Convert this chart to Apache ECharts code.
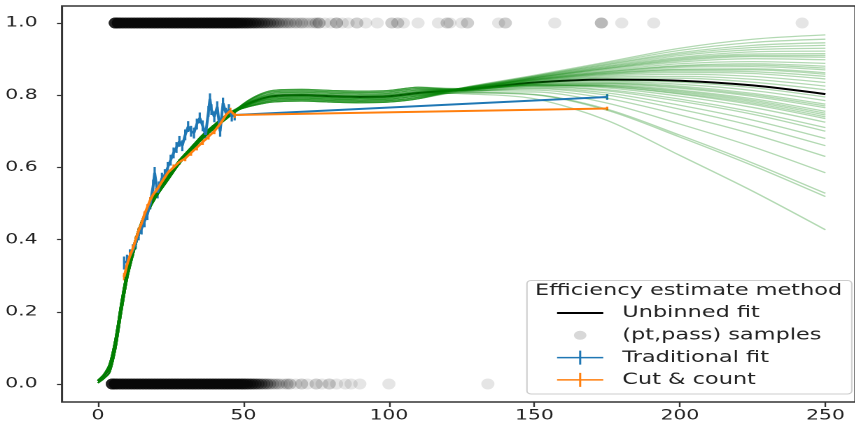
<!DOCTYPE html>
<html>
<head>
<meta charset="utf-8">
<script src="https://cdn.jsdelivr.net/npm/echarts@6/dist/echarts.min.js"></script>
<style>
  body { margin: 0; overflow: hidden; background: #fff; }
  /* the picture is stretched sideways, so draw it narrow and widen it */
  #chart { width: 611px; height: 428px; transform: scaleX(1.4); transform-origin: 0 0; }
</style>
</head>
<body>
<div id="chart"></div>
<script>
var xTicks = [0, 50, 100, 150, 200, 250];
var yTicks = [0, 0.2, 0.4, 0.6, 0.8, 1.0];

// (pt,pass) samples: pt position and how many samples sit on top of each other there
var passX = [6, 7, 8, 9, 10, 11, 12, 13, 14, 15, 16, 17, 18, 19, 20, 21, 22, 23, 24, 25, 26, 27, 28, 29, 30,
  31, 32, 33, 34, 35, 36, 37, 38, 39, 40, 41, 42, 43, 44, 45, 46, 47, 48,
  49, 50, 51, 52, 53, 54, 55, 56, 57, 58, 59, 60, 61, 62, 63, 64, 65, 66, 67, 68, 69, 70, 71, 72, 73, 74, 75, 76,
  78, 80, 82, 84, 86, 89, 92, 96, 101, 103, 105, 110, 117, 120, 121, 125, 127, 137.7, 140, 157, 173, 180, 191, 242];
var passN = [20, 16, 12, 12, 12, 12, 12, 12, 12, 12, 12, 12, 12, 12, 12, 12, 12, 12, 12, 12, 12, 12, 12, 12, 12,
  12, 12, 12, 12, 12, 12, 12, 12, 12, 12, 12, 12, 12, 12, 12, 12, 12, 12,
  10, 9, 9, 8, 7, 7, 6, 5, 5, 4, 4, 3, 3, 3, 2, 2, 2, 2, 1, 2, 1, 2, 1, 1, 1, 1, 2, 3,
  1, 1, 3, 1, 1, 2, 1, 1, 2, 2, 1, 1, 1, 2, 1, 1, 2, 1, 2, 1, 3, 1, 1, 1];
var failX = [5, 6, 7, 8, 9, 10, 11, 12, 13, 14, 15, 16, 17, 18, 19, 20, 21, 22, 23, 24, 25, 26, 27, 28, 29, 30,
  31, 32, 33, 34, 35, 36, 37, 38, 39, 40, 41, 42, 43, 44, 45, 46, 47, 48, 49, 50,
  51, 52, 53, 54, 55, 56, 57, 58, 59, 60, 61, 62, 63, 64, 65, 66,
  68, 70, 72, 75, 77, 79.5, 82, 85, 87, 90, 100, 134];
var failN = [20, 16, 12, 12, 12, 12, 12, 12, 12, 12, 12, 12, 12, 12, 12, 12, 12, 12, 12, 12, 12, 12, 12, 12, 12, 12,
  12, 12, 12, 12, 12, 12, 12, 12, 12, 12, 12, 12, 12, 12, 12, 12, 12, 12, 12, 12,
  10, 9, 8, 7, 6, 5, 4, 4, 3, 2, 2, 2, 1, 1, 2, 2,
  1, 2, 1, 2, 1, 2, 1, 1, 1, 1, 1, 1];

// unbinned fit and its sampled variations, in three pt stretches
var headX = [0, 2, 4, 6, 8, 10, 12, 14, 17, 20, 24, 28, 32, 36, 40, 45];
var headMid = [0.008, 0.022, 0.045, 0.11, 0.21, 0.30, 0.365, 0.42, 0.48, 0.525, 0.57, 0.615, 0.65, 0.685, 0.713, 0.745];
var headHigh = [0.01, 0.026, 0.055, 0.125, 0.225, 0.312, 0.375, 0.428, 0.487, 0.53, 0.576, 0.62, 0.655, 0.69, 0.718, 0.75];
var headLow = [0.003, 0.015, 0.032, 0.095, 0.195, 0.288, 0.355, 0.412, 0.473, 0.518, 0.564, 0.61, 0.645, 0.68, 0.708, 0.74];
var midX = [50, 55, 60, 70, 80, 90, 100, 110];
var fitMid = [0.770, 0.787, 0.797, 0.800, 0.797, 0.795, 0.797, 0.806];
var mids = [
  [0.764, 0.774, 0.781, 0.784, 0.781, 0.779, 0.781, 0.790],
  [0.765, 0.777, 0.785, 0.788, 0.785, 0.783, 0.785, 0.794],
  [0.767, 0.781, 0.789, 0.792, 0.789, 0.787, 0.789, 0.798],
  [0.768, 0.784, 0.793, 0.796, 0.793, 0.791, 0.793, 0.802],
  [0.770, 0.787, 0.797, 0.800, 0.797, 0.795, 0.797, 0.806],
  [0.772, 0.790, 0.801, 0.804, 0.801, 0.799, 0.801, 0.810],
  [0.773, 0.793, 0.805, 0.808, 0.805, 0.803, 0.805, 0.814],
  [0.775, 0.797, 0.809, 0.812, 0.809, 0.807, 0.809, 0.818],
  [0.776, 0.800, 0.813, 0.816, 0.813, 0.811, 0.813, 0.822]
];
var tailX = [125, 150, 175, 200, 225, 250];
var fitTail = [0.815, 0.835, 0.843, 0.840, 0.827, 0.803];
var tails = [
  [0.820, 0.855, 0.892, 0.930, 0.955, 0.967],
  [0.820, 0.853, 0.889, 0.924, 0.946, 0.955],
  [0.819, 0.852, 0.886, 0.918, 0.938, 0.945],
  [0.819, 0.851, 0.884, 0.914, 0.932, 0.938],
  [0.819, 0.850, 0.881, 0.910, 0.926, 0.930],
  [0.819, 0.849, 0.879, 0.905, 0.920, 0.922],
  [0.818, 0.848, 0.877, 0.902, 0.914, 0.915],
  [0.818, 0.848, 0.875, 0.899, 0.910, 0.910],
  [0.818, 0.847, 0.874, 0.896, 0.907, 0.905],
  [0.818, 0.846, 0.872, 0.892, 0.901, 0.898],
  [0.818, 0.845, 0.869, 0.887, 0.893, 0.888],
  [0.817, 0.844, 0.866, 0.882, 0.887, 0.880],
  [0.817, 0.844, 0.865, 0.880, 0.883, 0.875],
  [0.817, 0.843, 0.863, 0.877, 0.879, 0.870],
  [0.817, 0.842, 0.861, 0.872, 0.873, 0.862],
  [0.817, 0.842, 0.860, 0.870, 0.870, 0.858],
  [0.816, 0.841, 0.858, 0.867, 0.865, 0.852],
  [0.816, 0.840, 0.856, 0.863, 0.860, 0.845],
  [0.816, 0.839, 0.853, 0.858, 0.852, 0.835],
  [0.816, 0.838, 0.850, 0.852, 0.844, 0.825],
  [0.815, 0.836, 0.847, 0.847, 0.836, 0.815],
  [0.815, 0.834, 0.841, 0.836, 0.821, 0.795],
  [0.814, 0.833, 0.838, 0.830, 0.813, 0.785],
  [0.814, 0.832, 0.835, 0.825, 0.805, 0.775],
  [0.814, 0.831, 0.833, 0.822, 0.801, 0.770],
  [0.814, 0.830, 0.832, 0.819, 0.797, 0.765],
  [0.814, 0.829, 0.829, 0.814, 0.790, 0.755],
  [0.813, 0.829, 0.827, 0.811, 0.786, 0.750],
  [0.813, 0.828, 0.826, 0.808, 0.782, 0.745],
  [0.813, 0.827, 0.824, 0.805, 0.778, 0.740],
  [0.813, 0.827, 0.823, 0.803, 0.774, 0.735],
  [0.813, 0.826, 0.820, 0.797, 0.766, 0.725],
  [0.812, 0.824, 0.815, 0.789, 0.754, 0.710],
  [0.812, 0.823, 0.812, 0.783, 0.747, 0.700],
  [0.811, 0.820, 0.806, 0.772, 0.731, 0.680],
  [0.811, 0.818, 0.800, 0.761, 0.715, 0.660],
  [0.810, 0.814, 0.791, 0.745, 0.692, 0.630],
  [0.808, 0.809, 0.778, 0.720, 0.657, 0.585],
  [0.807, 0.802, 0.761, 0.689, 0.612, 0.528],
  [0.806, 0.801, 0.758, 0.684, 0.605, 0.519],
  [0.804, 0.790, 0.730, 0.633, 0.534, 0.427]
];

// traditional fit (binned, with errors)
var tradX = [9, 10, 11, 12, 13, 14, 15, 16, 17, 18, 19, 19.5, 20.5, 21, 22, 23, 24, 25, 26, 27, 28, 29, 30,
  31, 32, 33, 34, 35, 36, 37, 38, 38.5, 39, 40, 41, 42, 43, 44, 45, 46, 47, 175];
var tradY = [0.335, 0.34, 0.355, 0.37, 0.39, 0.415, 0.43, 0.45, 0.47, 0.50, 0.55, 0.585, 0.53, 0.545, 0.57, 0.58, 0.60, 0.62, 0.64, 0.655, 0.672, 0.66, 0.69,
  0.713, 0.70, 0.695, 0.72, 0.737, 0.715, 0.69, 0.755, 0.79, 0.76, 0.74, 0.768, 0.70, 0.778, 0.75, 0.76, 0.742, 0.745, 0.795];
var tradErr = [0.018, 0.018, 0.018, 0.017, 0.017, 0.017, 0.016, 0.016, 0.016, 0.016, 0.016, 0.016, 0.016, 0.016, 0.015, 0.015, 0.015, 0.015, 0.015, 0.015, 0.015, 0.015, 0.015,
  0.015, 0.015, 0.015, 0.015, 0.015, 0.015, 0.015, 0.015, 0.015, 0.015, 0.015, 0.015, 0.015, 0.015, 0.015, 0.015, 0.015, 0.015, 0.008];

// cut & count
var cutX = [9, 10, 11, 12, 13, 14, 15, 16, 17, 18, 19, 20, 22, 24, 26, 28, 30, 32, 34, 36, 38, 40, 42, 44, 45.5, 47, 175];
var cutY = [0.297, 0.33, 0.355, 0.375, 0.40, 0.425, 0.445, 0.47, 0.49, 0.51, 0.525, 0.535, 0.56, 0.585, 0.60, 0.615, 0.625, 0.64, 0.655, 0.67, 0.685, 0.70, 0.72, 0.745, 0.757, 0.745, 0.763];
var cutErr = [0.01, 0.01, 0.009, 0.009, 0.009, 0.008, 0.008, 0.008, 0.008, 0.008, 0.008, 0.008, 0.008, 0.008, 0.008, 0.008, 0.008, 0.008, 0.008, 0.008, 0.008, 0.008, 0.008, 0.008, 0.008, 0.008, 0.005];

var FONT = 'DejaVu Sans';
var BLUE = '#1f77b4', ORANGE = '#ff7f0e';

function samples(xs, ns, y) {
  var out = [];
  xs.forEach(function (x, i) {
    for (var k = 0; k < ns[i]; k++) out.push([x, y]);
  });
  return out;
}

function pairs(xs, ys) {
  return xs.map(function (x, i) { return [x, ys[i]]; });
}

function curve(head, mid, tail) {
  return pairs(headX, head).concat(pairs(midX, mid), pairs(tailX, tail));
}

function errorBars(name, xs, ys, errs, color) {
  return {
    name: name, type: 'custom', silent: true,
    encode: { x: 0, y: [1, 2] },
    data: xs.map(function (x, i) { return [x, ys[i] - errs[i], ys[i] + errs[i]]; }),
    renderItem: function (params, api) {
      var lo = api.coord([api.value(0), api.value(1)]);
      var hi = api.coord([api.value(0), api.value(2)]);
      return {
        type: 'line',
        shape: { x1: lo[0], y1: lo[1], x2: hi[0], y2: hi[1] },
        style: { stroke: color, lineWidth: 1.6 }
      };
    }
  };
}

var series = [];
series.push({
  name: '(pt,pass) samples', type: 'scatter', silent: true,
  symbol: 'circle', symbolSize: [9.5, 11],
  itemStyle: { color: '#000', opacity: 0.1 },
  data: samples(passX, passN, 1).concat(samples(failX, failN, 0))
});
series.push({
  name: 'Unbinned fit', type: 'line', symbol: 'none', silent: true, smooth: 0.3,
  lineStyle: { color: '#000', width: 2 }, itemStyle: { color: '#000' },
  data: curve(headMid, fitMid, fitTail)
});
var heads = [headHigh, headMid, headLow];
tails.forEach(function (t, i) {
  series.push({
    type: 'line', symbol: 'none', silent: true, smooth: 0.3,
    lineStyle: { color: '#008000', width: 1.3, opacity: 0.3 },
    data: curve(heads[i % 3], mids[i % 9], t)
  });
});
series.push({
  name: 'Traditional fit', type: 'line', symbol: 'none', silent: true,
  lineStyle: { color: BLUE, width: 2 }, itemStyle: { color: BLUE },
  data: pairs(tradX, tradY)
});
series.push(errorBars('Traditional fit', tradX, tradY, tradErr, BLUE));
series.push({
  name: 'Cut & count', type: 'line', symbol: 'none', silent: true,
  lineStyle: { color: ORANGE, width: 2 }, itemStyle: { color: ORANGE },
  data: pairs(cutX, cutY)
});
series.push(errorBars('Cut & count', cutX, cutY, cutErr, ORANGE));

// legend icons all span the same 33x14 box (tiny corner specks fix the box)
var corners = ' M0,0h0.01v0.01h-0.01z M32.99,13.99h0.01v0.01h-0.01z';
var lineIcon = 'path://M0,6h33v2h-33z' + corners;
var dotIcon = 'path://M12,7a4.5,4.5 0 1,0 9,0a4.5,4.5 0 1,0 -9,0z' + corners;
var crossIcon = 'path://M0,6.25h33v1.5h-33z M15.75,0h1.5v14h-1.5z';

var option = {
  animation: false,
  grid: { left: 44.3, right: -2, top: 6, bottom: 26, show: true, borderColor: '#333', borderWidth: 1.5 },
  xAxis: {
    type: 'value', min: -12.33, max: 260.3,
    axisLine: { show: false, onZero: false },
    splitLine: { show: false },
    axisTick: { show: true, customValues: xTicks, length: 5, lineStyle: { color: '#333', width: 1.2 } },
    axisLabel: { customValues: xTicks, margin: 6, fontFamily: FONT, fontSize: 14.5, color: '#222' }
  },
  yAxis: {
    type: 'value', min: -0.05, max: 1.047,
    axisLine: { show: false, onZero: false },
    splitLine: { show: false },
    axisTick: { show: true, customValues: yTicks, length: 3.6, lineStyle: { color: '#333', width: 1.2 } },
    axisLabel: {
      customValues: yTicks, margin: 17.5, fontFamily: FONT, fontSize: 14.5, color: '#222',
      formatter: function (v) { return v.toFixed(1); }
    }
  },
  legend: {
    selectedMode: false, orient: 'vertical', left: 397.9, top: 305, padding: 0,
    itemWidth: 33, itemHeight: 14, itemGap: 6.3,
    textStyle: { fontFamily: FONT, fontSize: 16, color: '#222', lineHeight: 16, padding: [0, 0, 0, 8.6] },
    data: [
      { name: 'Unbinned fit', icon: lineIcon, itemStyle: { color: '#000', borderWidth: 0 } },
      { name: '(pt,pass) samples', icon: dotIcon, itemStyle: { color: '#d8d8d8', opacity: 1, borderWidth: 0 } },
      { name: 'Traditional fit', icon: crossIcon, itemStyle: { color: BLUE, borderWidth: 0 } },
      { name: 'Cut & count', icon: crossIcon, itemStyle: { color: ORANGE, borderWidth: 0 } }
    ]
  },
  graphic: [
    { type: 'rect', z: 3, shape: { x: 376.4, y: 280.5, width: 232, height: 113.5, r: 3 },
      style: { fill: 'rgba(255,255,255,0.8)', stroke: '#cccccc', lineWidth: 1 } },
    { type: 'text', z: 5, x: 382.1, y: 291,
      style: { text: 'Efficiency estimate method', fontFamily: FONT, fontSize: 16, fill: '#222', verticalAlign: 'middle' } }
  ],
  series: series
};

var chart = echarts.init(document.getElementById('chart'), null, { devicePixelRatio: 2 });
chart.setOption(option);
</script>
</body>
</html>
